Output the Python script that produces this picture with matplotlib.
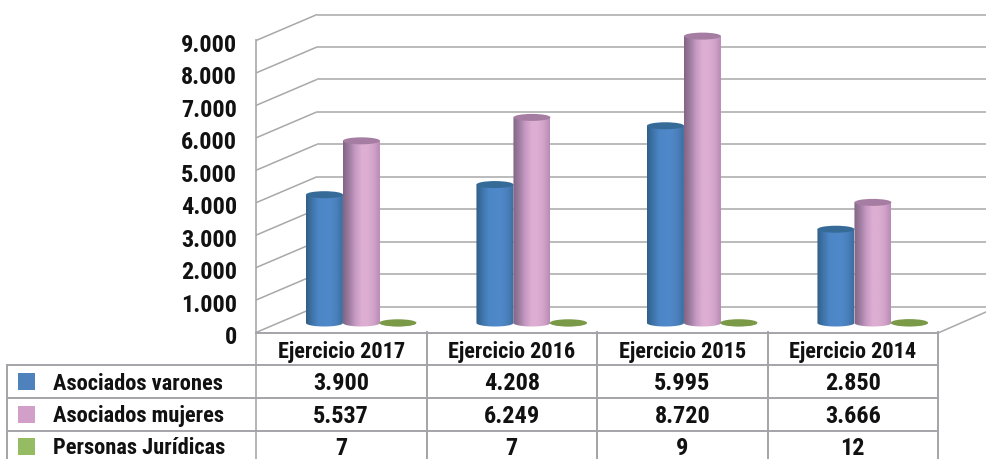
import numpy as np
import matplotlib
matplotlib.use('Agg')
import matplotlib.pyplot as plt
from matplotlib.colors import LinearSegmentedColormap
from matplotlib.patches import Polygon, Ellipse, Rectangle

categories = ['Ejercicio 2017', 'Ejercicio 2016', 'Ejercicio 2015', 'Ejercicio 2014']
series_names = ['Asociados varones', 'Asociados mujeres', 'Personas Jurídicas']
varones = [3900, 4208, 5995, 2850]
mujeres = [5537, 6249, 8720, 3666]
juridicas = [7, 7, 9, 12]
yticks = [0, 1000, 2000, 3000, 4000, 5000, 6000, 7000, 8000, 9000]

plt.rcParams['font.family'] = ['Roboto Condensed', 'Liberation Sans', 'DejaVu Sans']
plt.rcParams['font.weight'] = 'bold'

W, H = 986, 460
GRID = '#a8a8a8'
TABLE = '#a3a3a8'
INK = '#111111'


def dotted(v):
    return f'{v:,}'.replace(',', '.')


fig = plt.figure(figsize=(W / 100, H / 100), dpi=100)

# background axes in pixels: walls, table and text
bg = fig.add_axes([0, 0, 1, 1])
bg.set_xlim(0, W)
bg.set_ylim(H, 0)
bg.axis('off')

for v in yticks:
    yf = 333.5 - v * 0.03244
    yb = yf - 26
    bg.plot([256, 317], [yf, yb], color=GRID, lw=1.1, solid_capstyle='butt')
    bg.plot([317, W], [yb, yb], color=GRID, lw=1.1, solid_capstyle='butt')
    bg.text(237, yf + 4, dotted(v), ha='right', va='center', fontsize=17.5, color=INK)
bg.plot([256, 256], [41, H], color=GRID, lw=1.2)
bg.plot([938, W], [334, 313], color=GRID, lw=1.1)

# table
cols = [256, 426.5, 597, 767.5, 938]
rows = [366, 398.5, 431.5]
bg.plot([256, 938], [333.5, 333.5], color=TABLE, lw=1.4)
for y in rows:
    bg.plot([7, 938], [y, y], color=TABLE, lw=1.4)
bg.plot([7, 7], [366, H], color=TABLE, lw=1.4)
for x in cols[1:]:
    bg.plot([x, x], [333, H], color=TABLE, lw=1.4)

for i, c in enumerate(categories):
    bg.text((cols[i] + cols[i + 1]) / 2, 352, c, ha='center', va='center', fontsize=16, color=INK)

row_y = [383, 415.5, 447.5]
swatches = ['#4f81bd', '#d29fc9', '#95bb63']
all_values = [varones, mujeres, juridicas]
for name, vals, y, col in zip(series_names, all_values, row_y, swatches):
    bg.add_patch(Rectangle((18, y - 9), 17, 17, color=col, lw=0))
    bg.text(53, y + 1, name, ha='left', va='center', fontsize=16.2, color=INK)
    for i, v in enumerate(vals):
        bg.text((cols[i] + cols[i + 1]) / 2, y + 1, dotted(v), ha='center', va='center', fontsize=17.5, color=INK)

# bars axes: x in categories, y in values
PX_X = 170.5
PX_Y = 0.0329
ax = fig.add_axes([0, 0, 1, 1], facecolor='none')
ax.axis('off')

bar_w = 37 / PX_X
ell_h = 7 / PX_Y
shades = [
    ['#325f88', '#3f75ab', '#4d86c6', '#4f88c9', '#4f88c9', '#4a80bc', '#3d6f9f'],
    ['#836584', '#a07ea2', '#c79ac4', '#ddaed2', '#ddaed2', '#d3a4ca', '#b98bb5'],
    ['#7a9a48', '#7a9a48'],
]
tops = ['#366a97', '#a67da2', '#7a9a48']
offsets = [-0.1, 0.117, 0.331]
t = np.linspace(0, np.pi, 40)

for vals, cs, top, off in zip(all_values, shades, tops, offsets):
    cmap = LinearSegmentedColormap.from_list('c', cs)
    for i, v in enumerate(vals):
        x = i + off
        # body outline: straight sides, rounded bottom
        arc_x = x - bar_w / 2 * np.cos(t)
        arc_y = -ell_h / 2 * np.sin(t)
        pts = np.column_stack([np.r_[arc_x, x + bar_w / 2, x - bar_w / 2], np.r_[arc_y, v, v]])
        outline = Polygon(pts, closed=True, transform=ax.transData, fc='none', ec='none')
        ax.add_patch(outline)
        im = ax.imshow(np.linspace(0, 1, 64).reshape(1, -1), cmap=cmap, aspect='auto',
                       extent=[x - bar_w / 2, x + bar_w / 2, -ell_h, v], zorder=2)
        im.set_clip_path(outline)
        ax.add_patch(Ellipse((x, v), bar_w, ell_h, color=top, lw=0, zorder=3))

ax.set_xlim(-341.5 / PX_X, (W - 341.5) / PX_X)
ax.set_ylim(-(H - 324) / PX_Y, 324 / PX_Y)

fig.savefig('out.png', dpi=100)
